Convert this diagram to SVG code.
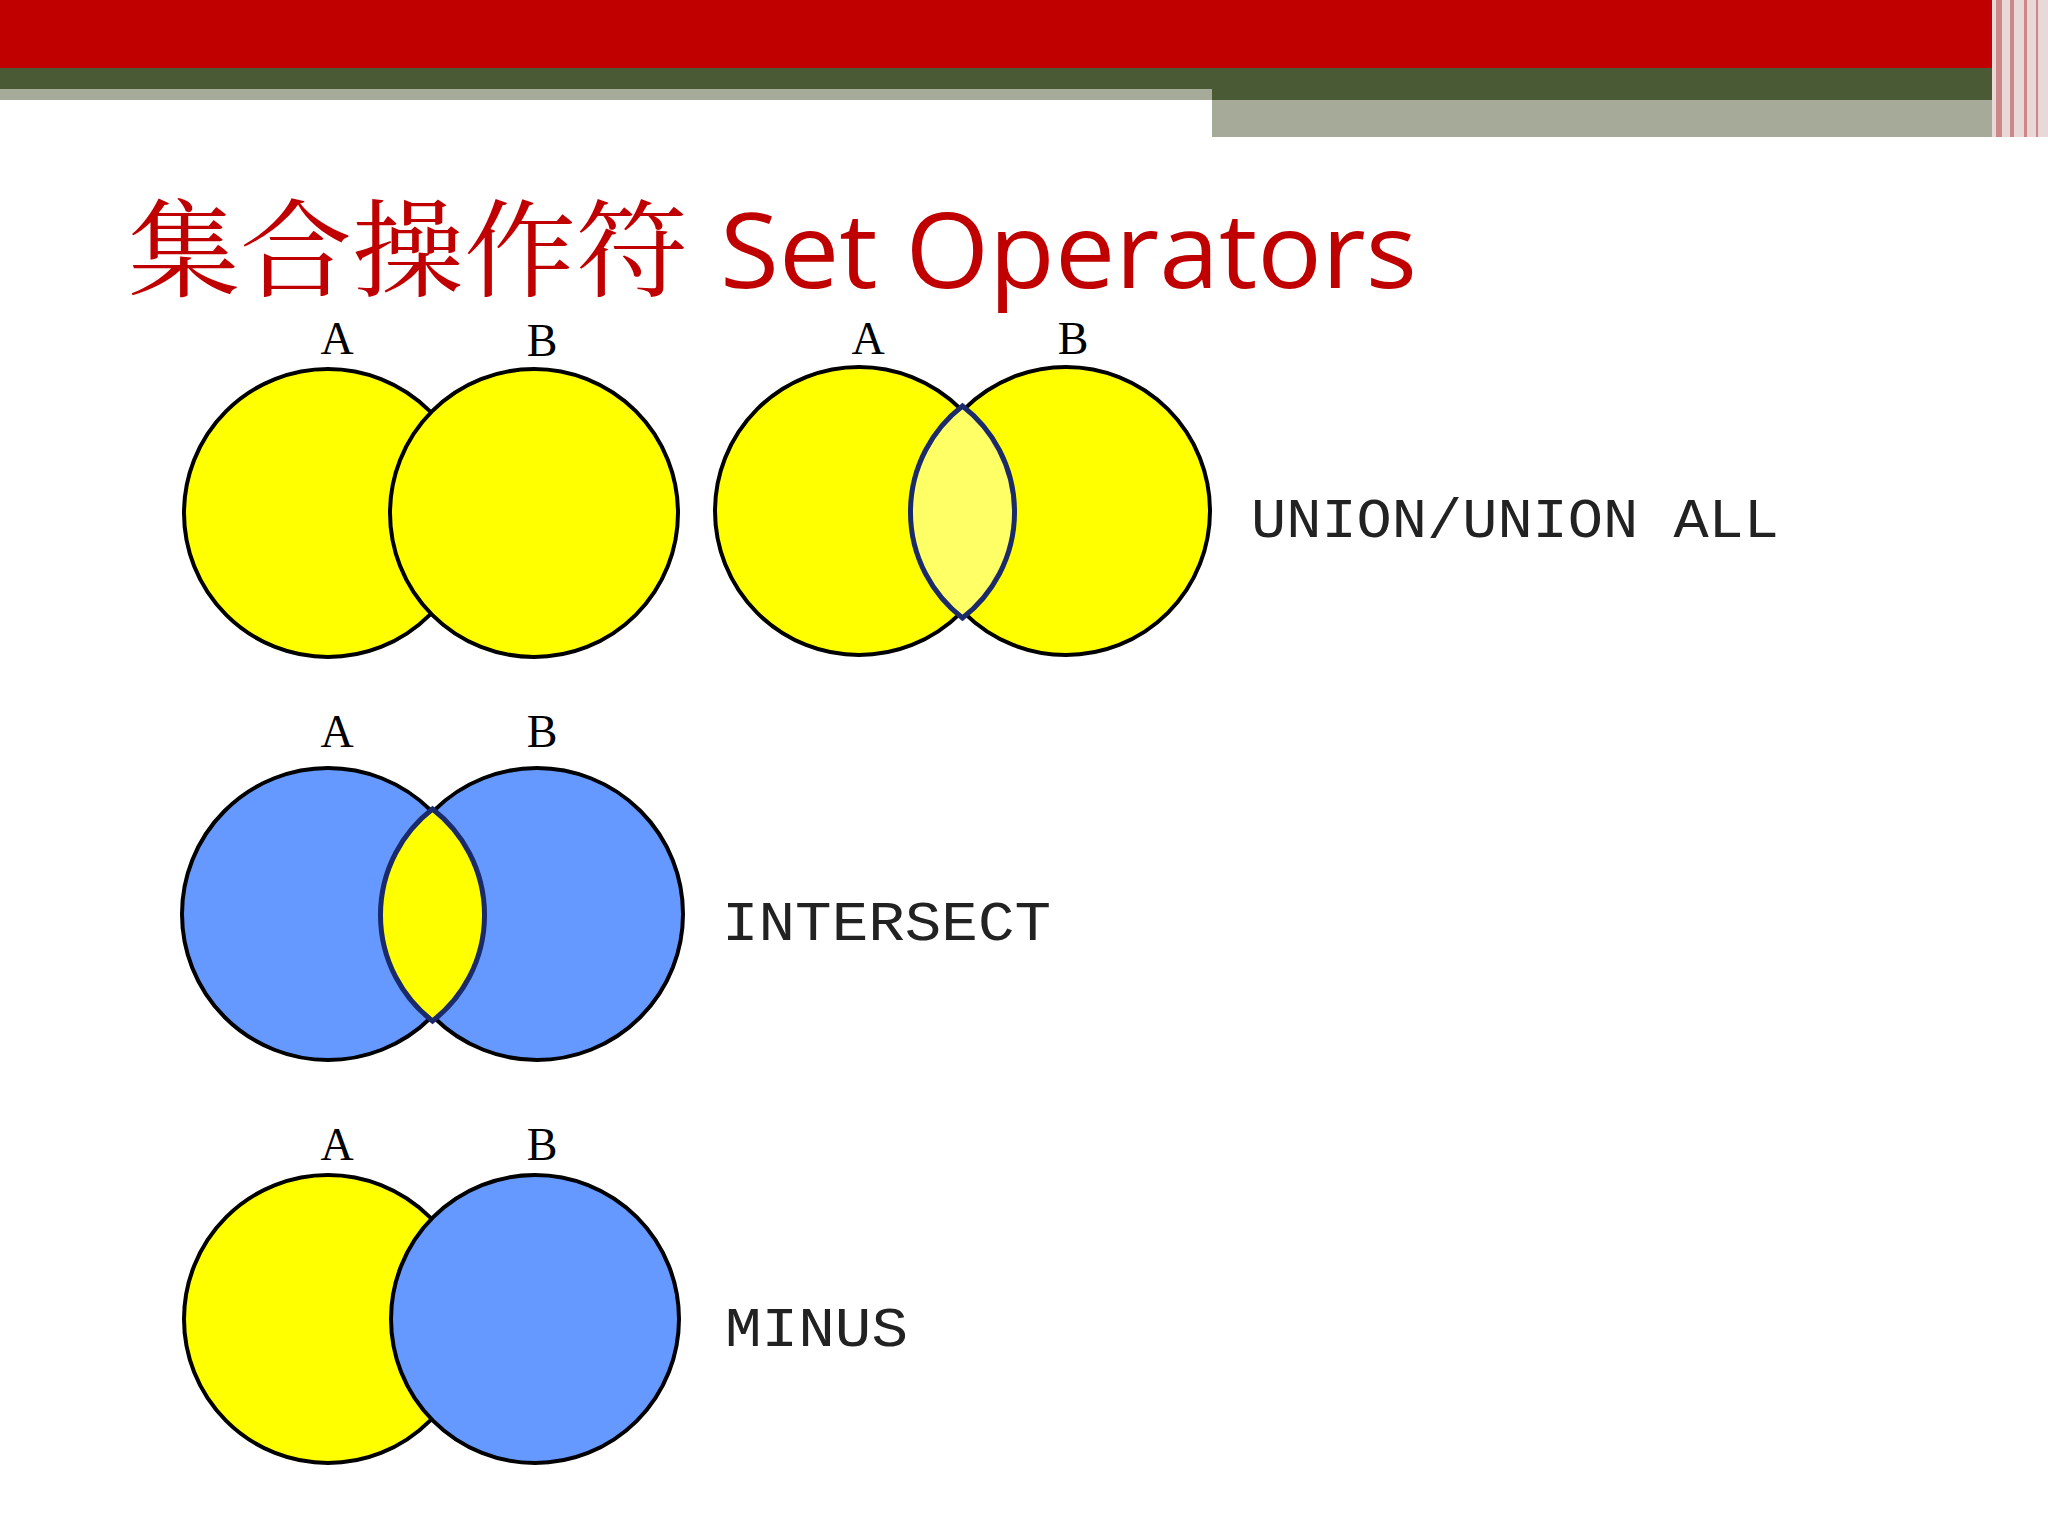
<svg xmlns="http://www.w3.org/2000/svg" width="2048" height="1536" viewBox="0 0 2048 1536">
<style>
.c{stroke:#000;stroke-width:4}
.y{fill:#ffff00}.b{fill:#6699ff}
.lens{stroke:#1a2a6a;stroke-width:5}
.lab{font-family:"Liberation Serif",serif;font-size:46px;fill:#000}
.op{font-family:"Liberation Mono",monospace;font-size:56px;fill:#222}
</style>
<rect width="2048" height="1536" fill="#fff"/>
<g id="header">
<rect x="0" y="0" width="2048" height="68" fill="#c00000"/>
<rect x="0" y="68" width="2048" height="21" fill="#4a5a35"/>
<rect x="0" y="89" width="1212" height="11" fill="#a6aa98"/>
<rect x="1212" y="89" width="780" height="11" fill="#4a5a35"/>
<rect x="1212" y="100" width="780" height="37" fill="#a6aa98"/>
<rect x="1992" y="0" width="56" height="137" fill="#e8d8d8"/>
<rect x="1996" y="0" width="6" height="137" fill="#c88"/>
<rect x="2010" y="0" width="4" height="137" fill="#c88"/>
<rect x="2024" y="0" width="3" height="137" fill="#c88"/>
<rect x="2036" y="0" width="2" height="137" fill="#c88"/>
</g>
<g id="title">
<text x="128" y="288" font-family="'Noto Serif CJK SC','Noto Sans CJK SC',serif" font-size="106" fill="#c00000" textLength="560" lengthAdjust="spacingAndGlyphs">集合操作符</text>
<text x="720" y="288" font-family="'Open Sans','Noto Sans',sans-serif" font-size="104" fill="#c00000" textLength="697" lengthAdjust="spacingAndGlyphs">Set Operators</text>
</g>
<g id="union">
<circle class="c y" cx="328" cy="513" r="144"/>
<circle class="c y" cx="534" cy="513" r="144"/>
<text class="lab" x="337" y="354" text-anchor="middle">A</text>
<text class="lab" x="542" y="356" text-anchor="middle">B</text>
</g>
<g id="unionall">
<circle class="c y" cx="859" cy="511" r="144"/>
<circle class="c y" cx="1066" cy="511" r="144"/>
<path class="lens" fill="#ffff66" d="M962.5 406 A134 134 0 0 1 962.5 618 A134 134 0 0 1 962.5 406Z"/>
<text class="lab" x="868" y="354" text-anchor="middle">A</text>
<text class="lab" x="1073" y="354" text-anchor="middle">B</text>
<text class="op" x="1251" y="537" textLength="528" lengthAdjust="spacingAndGlyphs">UNION/UNION ALL</text>
</g>
<g id="intersect">
<circle class="c b" cx="328" cy="914" r="146"/>
<circle class="c b" cx="537" cy="914" r="146"/>
<path class="lens" fill="#ffff00" d="M432.5 809 A134 134 0 0 1 432.5 1021 A134 134 0 0 1 432.5 809Z"/>
<text class="lab" x="337" y="747" text-anchor="middle">A</text>
<text class="lab" x="542" y="747" text-anchor="middle">B</text>
<text class="op" x="722" y="940" textLength="329" lengthAdjust="spacingAndGlyphs">INTERSECT</text>
</g>
<g id="minus">
<circle class="c y" cx="328" cy="1319" r="144"/>
<circle class="c b" cx="535" cy="1319" r="144"/>
<text class="lab" x="337" y="1160" text-anchor="middle">A</text>
<text class="lab" x="542" y="1160" text-anchor="middle">B</text>
<text class="op" x="725" y="1346" textLength="183" lengthAdjust="spacingAndGlyphs">MINUS</text>
</g>
<g id="connectors"/>
</svg>
